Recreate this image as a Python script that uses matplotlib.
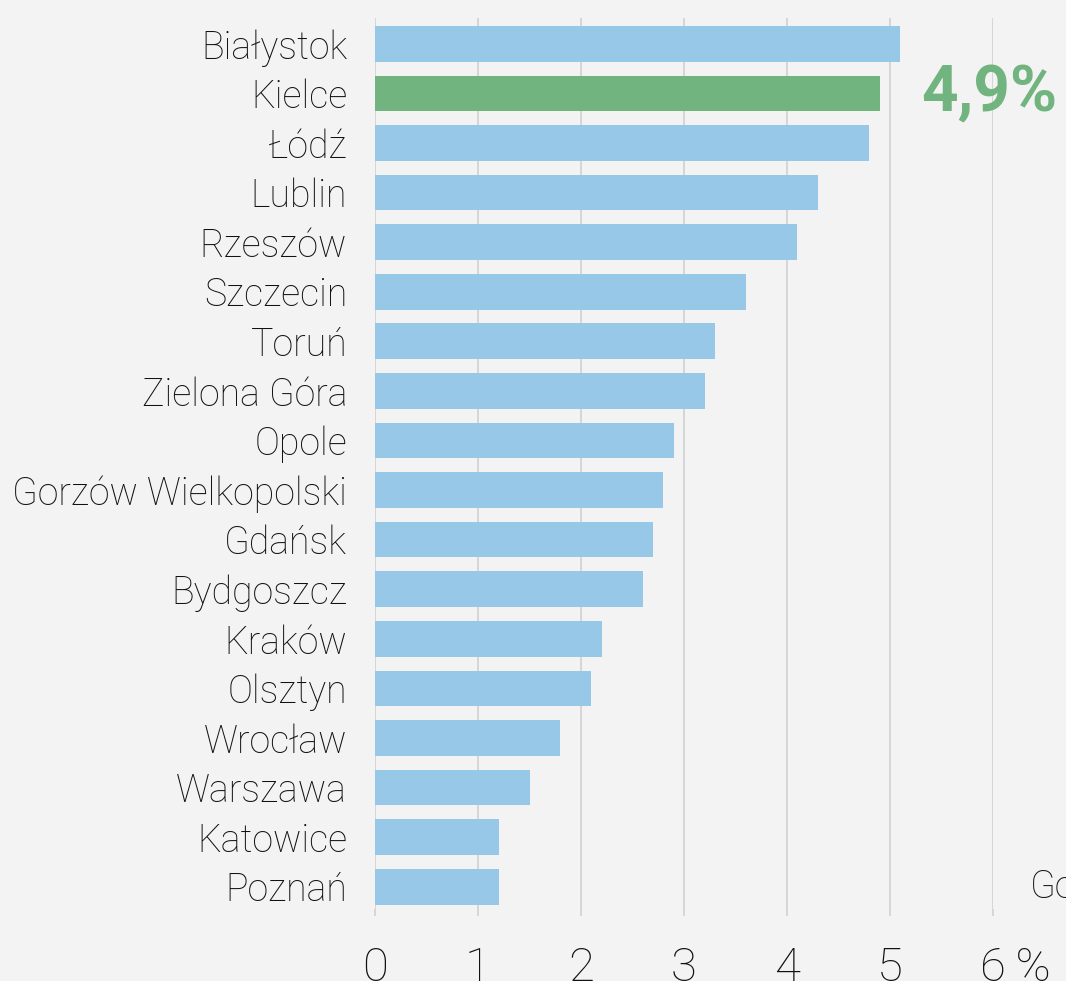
import matplotlib
matplotlib.use("Agg")
from matplotlib import pyplot as plt
from matplotlib import transforms

# data
cities = ["Białystok", "Kielce", "Łódź", "Lublin", "Rzeszów", "Szczecin", "Toruń",
          "Zielona Góra", "Opole", "Gorzów Wielkopolski", "Gdańsk", "Bydgoszcz",
          "Kraków", "Olsztyn", "Wrocław", "Warszawa", "Katowice", "Poznań"]
values = [5.1, 4.9, 4.8, 4.3, 4.1, 3.6, 3.3, 3.2, 2.9, 2.8, 2.7, 2.6,
          2.2, 2.1, 1.8, 1.5, 1.2, 1.2]
highlight = "Kielce"
highlight_label = "4,9%"
x_ticks = [0, 1, 2, 3, 4, 5, 6]
x_ticklabels = ["0", "1", "2", "3", "4", "5", "6\u2009%"]

BG = "#f3f3f3"
BLUE = "#98c8e8"
GREEN = "#72b47f"
TXT = "#111111"

plt.rcParams['font.family'] = ['Roboto', 'DejaVu Sans']

fig = plt.figure(figsize=(10.66, 9.81), dpi=100, facecolor=BG)
ax = fig.add_axes([375 / 1066, 1 - 910 / 981, (993 - 375) / 1066, (910 - 18) / 981])
ax.set_facecolor(BG)

ypos = list(range(len(cities)))
colors = [GREEN if c == highlight else BLUE for c in cities]
ax.barh(ypos, values, height=0.72, color=colors, zorder=2)

ybot = len(cities) - 1 + 0.47
ax.set_ylim(ybot, -0.52)
ax.set_xlim(0, 6)
ax.set_yticks(ypos)
ax.set_yticklabels(cities, fontsize=27, fontweight='light', color=TXT)
ax.tick_params(axis='y', length=0, pad=20)

ax.set_xticks(x_ticks)
ax.set_xticklabels(x_ticklabels, fontsize=34, fontweight='light', color=TXT)
ax.tick_params(axis='x', length=0, pad=26)
# move "6 %" so the digit sits under its gridline
last = ax.get_xticklabels()[-1]
last.set_transform(last.get_transform() + transforms.ScaledTranslation(22 / 100, 0, fig.dpi_scale_trans))

ax.grid(axis='x', color="#d6d6d6", linewidth=1.4, zorder=0)
for x in x_ticks:
    ax.plot([x, x], [ybot, ybot + 0.1], color="#d6d6d6",
            linewidth=1.4, clip_on=False, zorder=0)
for s in ax.spines.values():
    s.set_visible(False)

# highlight value
ki = cities.index(highlight)
ax.text(5.30, ki, highlight_label, fontsize=46, fontweight='bold', color=GREEN,
        va='center', ha='left', clip_on=False)

# cut-off label of the neighbouring panel
fig.text(1030 / 1066, 1 - 887 / 981, "Gorzów", fontsize=27, fontweight='light',
         color=TXT, va='center', ha='left')

fig.savefig("out.png", dpi=100, facecolor=BG)
